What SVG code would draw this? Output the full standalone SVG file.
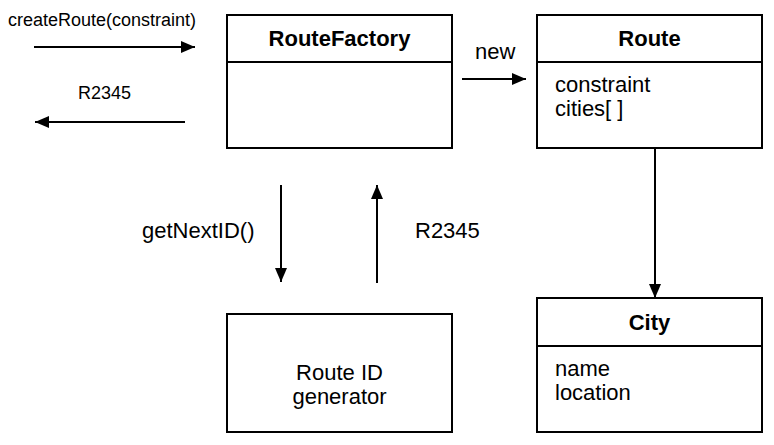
<svg xmlns="http://www.w3.org/2000/svg" width="774" height="445" viewBox="0 0 774 445">
<style>
text{font-family:"Liberation Sans",Arial,sans-serif;fill:#000}
.t{font-size:22px}
.s{font-size:18px}
.b{font-size:22px;font-weight:bold;text-anchor:middle}
.m{text-anchor:middle}
.box{fill:#fff;stroke:#000;stroke-width:2}
.c{stroke:#000;stroke-width:2;fill:none;marker-end:url(#ah)}
</style>
<defs>
<marker id="ah" viewBox="0 0 14 12" refX="14" refY="6" markerWidth="14" markerHeight="12" markerUnits="userSpaceOnUse" orient="auto">
<path d="M0,0L14,6L0,12Z" fill="#000"/>
</marker>
</defs>
<g id="routefactory">
<rect class="box" x="227" y="15" width="225" height="133"/>
<line x1="227" y1="62" x2="452" y2="62" stroke="#000" stroke-width="2"/>
<text class="b" x="339.5" y="46">RouteFactory</text>
</g>
<g id="route">
<rect class="box" x="537" y="15" width="225" height="133"/>
<line x1="537" y1="62" x2="762" y2="62" stroke="#000" stroke-width="2"/>
<text class="b" x="649.5" y="46">Route</text>
<text class="t" x="555" y="92">constraint</text>
<text class="t" x="555" y="116">cities[ ]</text>
</g>
<g id="city">
<rect class="box" x="537" y="298" width="225" height="134"/>
<line x1="537" y1="346" x2="762" y2="346" stroke="#000" stroke-width="2"/>
<text class="b" x="649.5" y="330">City</text>
<text class="t" x="555" y="376">name</text>
<text class="t" x="555" y="400">location</text>
</g>
<g id="routeidgenerator">
<rect class="box" x="227" y="314" width="225" height="118"/>
<text class="t m" x="339.5" y="380">Route ID</text>
<text class="t m" x="339.5" y="404">generator</text>
</g>
<g id="connectors">
<line class="c" x1="34" y1="47" x2="195" y2="47"/>
<text class="s" x="8" y="26">createRoute(constraint)</text>
<line class="c" x1="185" y1="122" x2="35" y2="122"/>
<text class="s" x="78" y="99">R2345</text>
<line class="c" x1="462" y1="79" x2="526" y2="79"/>
<text class="t" x="475" y="59">new</text>
<line class="c" x1="655" y1="148" x2="655" y2="298"/>
<line class="c" x1="281" y1="185" x2="281" y2="282"/>
<text class="t" x="142" y="238">getNextID()</text>
<line class="c" x1="377" y1="283" x2="377" y2="185"/>
<text class="t" x="415" y="238">R2345</text>
</g>
</svg>
